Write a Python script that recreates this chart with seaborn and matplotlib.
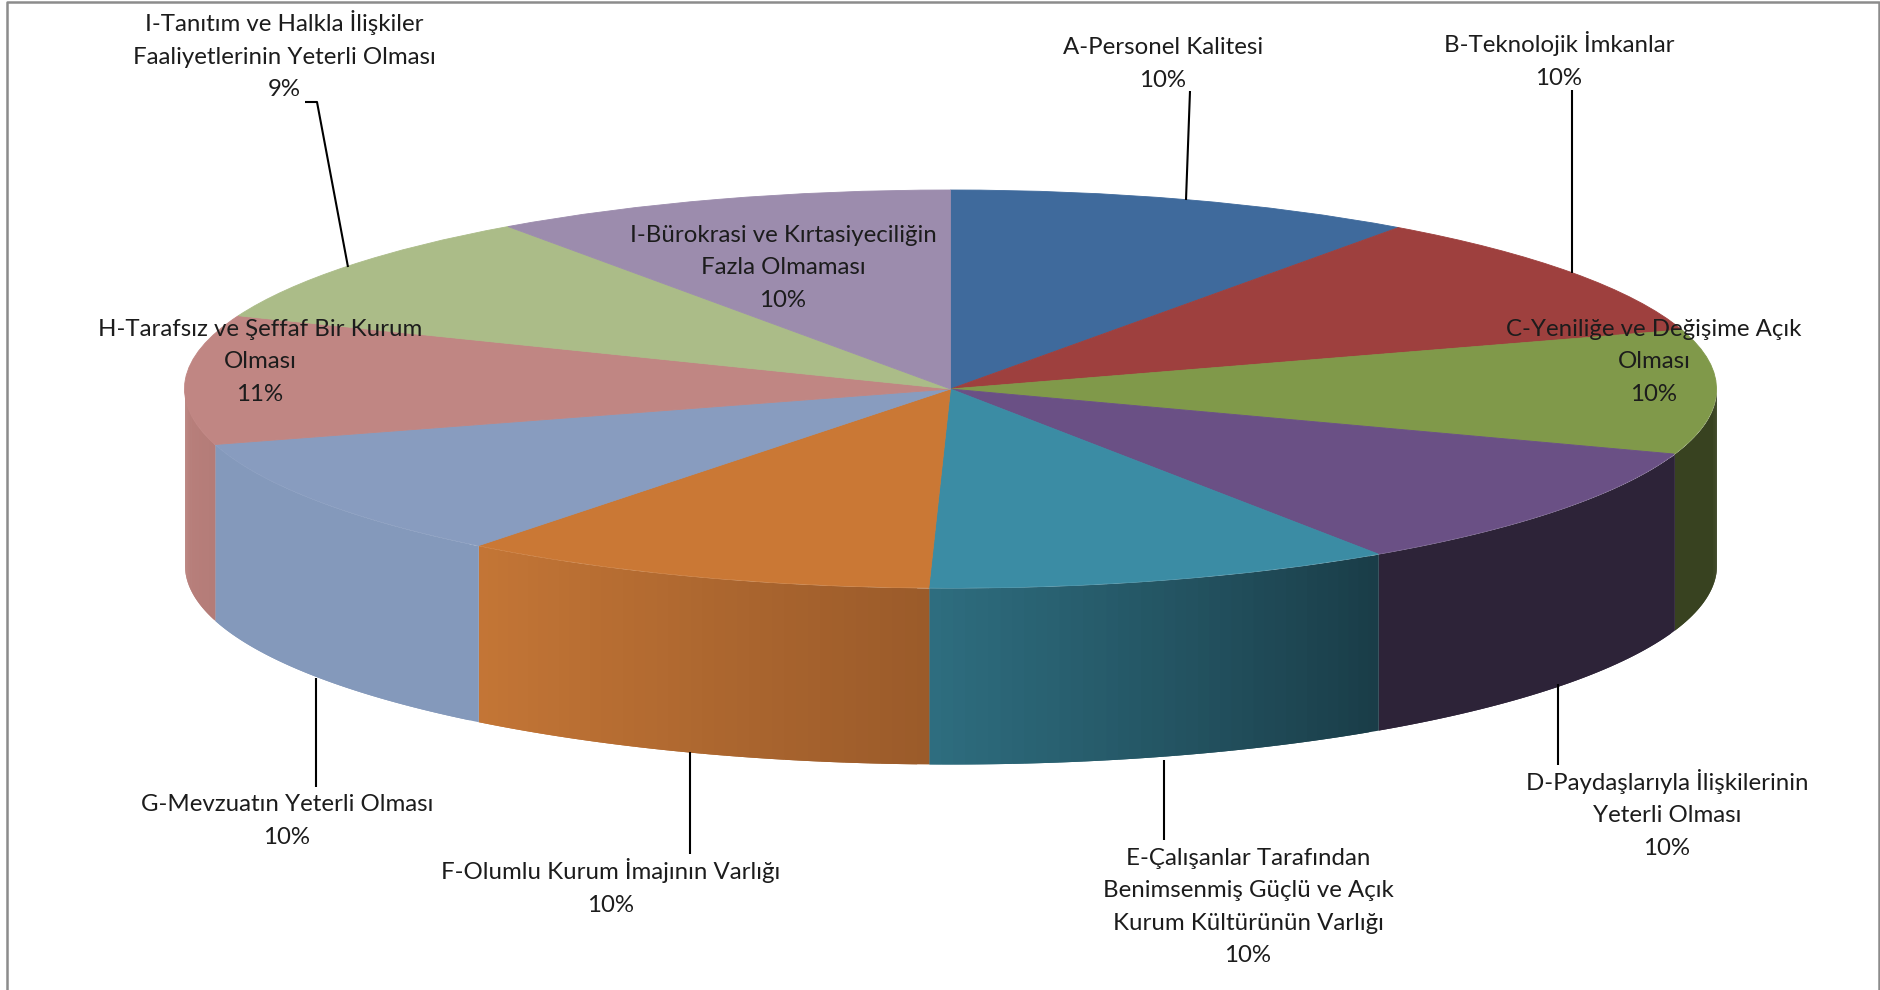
import numpy as np
import matplotlib.pyplot as plt
import matplotlib.colors as mcolors
import seaborn as sns

# ------------------------
# Data
# ------------------------
labels = [
    "A-Personel Kalitesi\n10%",
    "B-Teknolojik İmkanlar\n10%",
    "C-Yeniliğe ve Değişime Açık\nOlması\n10%",
    "D-Paydaşlarıyla İlişkilerinin\nYeterli Olması\n10%",
    "E-Çalışanlar Tarafından\nBenimsenmiş Güçlü ve Açık\nKurum Kültürünün Varlığı\n10%",
    "F-Olumlu Kurum İmajının Varlığı\n10%",
    "G-Mevzuatın Yeterli Olması\n10%",
    "H-Tarafsız ve Şeffaf Bir Kurum\nOlması\n11%",
    "I-Tanıtım ve Halkla İlişkiler\nFaaliyetlerinin Yeterli Olması\n9%",
    "I-Bürokrasi ve Kırtasiyeciliğin\nFazla Olmaması\n10%",
]
values = [9.94, 10.26, 10.1, 10.27, 9.88, 10.12, 9.93, 10.5, 9.2, 9.8]

top_colors = ["#3F6A9C", "#9E403E", "#80994A", "#6A5085", "#3B8CA4",
              "#CA7835", "#889CBF", "#C08683", "#ABBC88", "#9C8CAD"]
side_left = ["#3F6A9C", "#9E403E", "#384220", "#2D2338", "#2E6E80",
             "#C47636", "#8499BB", "#BA817D", "#ABBC88", "#9C8CAD"]
side_right = ["#3F6A9C", "#9E403E", "#384220", "#2D2338", "#1A3D48",
              "#9B5B2A", "#8499BB", "#B47C78", "#ABBC88", "#9C8CAD"]

# ------------------------
# Layout (reference pixels)
# ------------------------
W, H = 1881, 990
CX, CY = 950.5, 389
RX, RY = 766, 199
DEPTH = 176 / RY


def px(x, y):
    return (x - CX) / RX, (CY - y) / RY


label_pos = [(1163, 64), (1559, 60), (1654, 362), (1667, 814), (1248, 907),
             (611, 887), (287, 821), (260, 362), (284, 55), (783, 268)]
leaders = [
    [(1190, 91), (1186, 200)],
    [(1572, 90), (1572, 273)],
    [(1558, 684), (1558, 765)],
    [(1164, 760), (1164, 840)],
    [(690, 752), (690, 854)],
    [(316, 678), (316, 787)],
    [(305, 102), (317, 102), (348, 267)],
]

sns.set_theme(style="white")
plt.rcParams['font.family'] = ['Lato', 'DejaVu Sans']

fig = plt.figure(figsize=(W / 100, H / 100), dpi=100)
ax = fig.add_axes([0, 0, 1, 1])

# ------------------------
# Pie top, squashed to an ellipse
# ------------------------
wedges, _ = ax.pie(values, colors=top_colors, startangle=90, counterclock=False,
                   radius=1, wedgeprops={'linewidth': 0.6})
for w, c in zip(wedges, top_colors):
    w.set_edgecolor(c)
ax.set_aspect('auto')
ax.set_xlim(px(0, 0)[0], px(W, 0)[0])
ax.set_ylim(px(0, H)[1], px(0, 0)[1])

# ------------------------
# Pie side wall, only the front half shows
# ------------------------
ends = np.cumsum(values) / np.sum(values) * 360
starts = np.r_[0, ends[:-1]]
for a0, a1, c_l, c_r in zip(starts, ends, side_left, side_right):
    a0, a1 = max(a0, 90), min(a1, 270)
    if a1 <= a0:
        continue
    # clockwise from the top, so larger angle is further left
    steps = np.linspace(a0, a1, 41)
    rgb_l, rgb_r = np.array(mcolors.to_rgb(c_l)), np.array(mcolors.to_rgb(c_r))
    for i in range(len(steps) - 1):
        # each strip runs on under the next one so no seams show
        stop = steps[min(i + 2, len(steps) - 1)]
        t = np.radians(np.linspace(steps[i], stop, 8))
        x = np.sin(t)
        y = np.cos(t)
        frac = (steps[i] - a0) / (a1 - a0)
        col = rgb_r + (rgb_l - rgb_r) * frac
        ax.fill_between(x, y, y - DEPTH, color=col, lw=0, zorder=0.5)

# ------------------------
# Leader lines and labels
# ------------------------
for pts in leaders:
    xs, ys = zip(*[px(*p) for p in pts])
    ax.plot(xs, ys, color="black", lw=1.5, zorder=2, solid_capstyle='butt')

for text, pos in zip(labels, label_pos):
    x, y = px(*pos)
    ax.text(x, y, text, ha='center', va='center', multialignment='center',
            fontsize=17.3, color="#1c1c1c", linespacing=1.66, zorder=3)

# ------------------------
# Chart border, bottom is cut off
# ------------------------
for pts in [[(7, H), (7, 2), (1879, 2), (1879, H)]]:
    xs, ys = zip(*[px(*p) for p in pts])
    ax.plot(xs, ys, color="#8c8c8c", lw=1.8, zorder=4)

fig.savefig("out.png", dpi=100)
